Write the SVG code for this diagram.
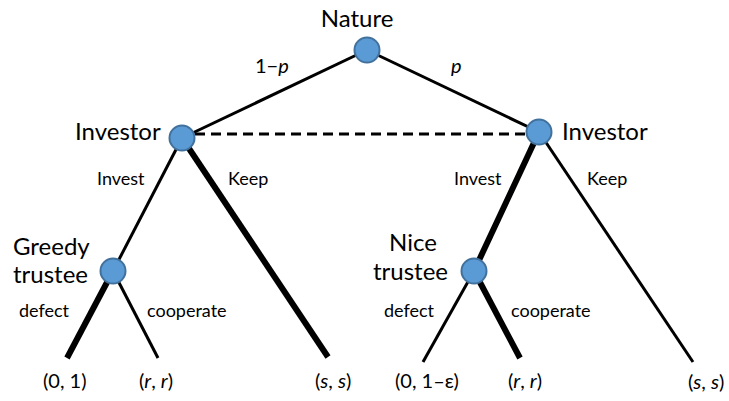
<svg xmlns="http://www.w3.org/2000/svg" width="729" height="401" viewBox="0 0 729 401">
<style>
text{font-family:Lato,"Liberation Sans",sans-serif;fill:#000}
.big{font-size:24px}
.med{font-size:20px}
.sm{font-size:18px}
.it{font-style:italic}
.node{fill:#5B9BD5;stroke:#41719C;stroke-width:2}
.thin{stroke:#000;stroke-width:3;fill:none}
.thick{stroke:#000;stroke-width:6;fill:none}
.dash{stroke:#000;stroke-width:3;stroke-dasharray:10 6;fill:none}
</style>
<rect width="729" height="401" fill="#fff"/>
<g id="connectors">
<line class="thin" x1="367" y1="50" x2="182" y2="138"/>
<line class="thin" x1="367" y1="50" x2="539" y2="132"/>
<line class="dash" x1="195" y1="134" x2="527" y2="134"/>
<line class="thin" x1="182" y1="138" x2="113" y2="271"/>
<line class="thick" x1="182" y1="138" x2="328" y2="357"/>
<line class="thick" x1="113" y1="271" x2="67" y2="358"/>
<line class="thin" x1="113" y1="271" x2="158" y2="358"/>
<line class="thick" x1="539" y1="132" x2="474" y2="271"/>
<line class="thin" x1="539" y1="132" x2="693" y2="362"/>
<line class="thin" x1="474" y1="271" x2="423" y2="362"/>
<line class="thick" x1="474" y1="271" x2="520" y2="358"/>
<text class="med" x="255" y="73">1−<tspan class="it">p</tspan></text>
<text class="med it" x="451" y="73">p</text>
<text class="sm" x="97" y="185">Invest</text>
<text class="sm" x="228" y="185">Keep</text>
<text class="sm" x="454" y="185">Invest</text>
<text class="sm" x="587" y="185">Keep</text>
<text class="sm" x="19" y="317">defect</text>
<text class="sm" x="147" y="317">cooperate</text>
<text class="sm" x="384" y="317">defect</text>
<text class="sm" x="511" y="317">cooperate</text>
</g>
<g id="nature">
<circle class="node" cx="367" cy="50" r="12.5"/>
<text class="big" x="357" y="27" text-anchor="middle">Nature</text>
</g>
<g id="investor-left">
<circle class="node" cx="182" cy="138" r="12.5"/>
<text class="big" x="75" y="140">Investor</text>
</g>
<g id="investor-right">
<circle class="node" cx="539" cy="132" r="12.5"/>
<text class="big" x="562" y="140">Investor</text>
</g>
<g id="greedy-trustee">
<circle class="node" cx="113" cy="271" r="12.5"/>
<text class="big" x="13" y="255">Greedy</text>
<text class="big" x="13" y="283">trustee</text>
</g>
<g id="nice-trustee">
<circle class="node" cx="474" cy="271" r="12.5"/>
<text class="big" x="389" y="251">Nice</text>
<text class="big" x="373" y="280">trustee</text>
</g>
<g id="payoffs">
<text class="med" x="43" y="388">(0, 1)</text>
<text class="med" x="139" y="388">(<tspan class="it">r</tspan>, <tspan class="it">r</tspan>)</text>
<text class="med" x="315" y="388">(<tspan class="it">s</tspan>, <tspan class="it">s</tspan>)</text>
<text class="med" x="395" y="388">(0, 1–ε)</text>
<text class="med" x="508" y="388">(<tspan class="it">r</tspan>, <tspan class="it">r</tspan>)</text>
<text class="med" x="688" y="389">(<tspan class="it">s</tspan>, <tspan class="it">s</tspan>)</text>
</g>
</svg>
